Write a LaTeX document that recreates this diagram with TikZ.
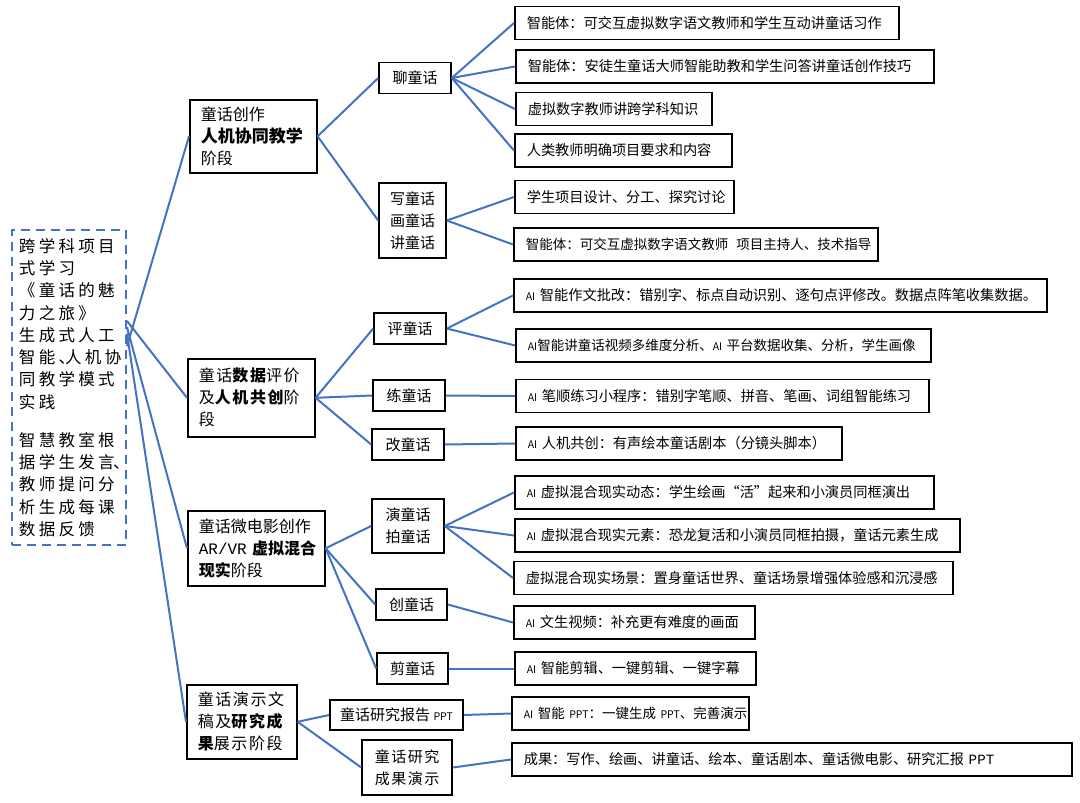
\documentclass[tikz,border=0pt]{standalone}
\usepackage{fontspec}
\setmainfont{Noto Sans CJK SC}
\newfontfamily\spacedfont[LetterSpace=10]{Noto Sans CJK SC}
\newfontfamily\widefont[LetterSpace=20]{Noto Sans CJK SC}
\newfontfamily\codefont{Liberation Mono}
\usetikzlibrary{calc}
\definecolor{linkblue}{RGB}{68,114,196}
\newcommand{\ai}{{\fontsize{10.5pt}{13pt}\selectfont AI}}
\newcommand{\ppt}{{\fontsize{10.5pt}{13pt}\selectfont PPT}}
\newcommand{\dun}{、\kern-.6em}
\newcommand{\dunend}{\kern-.1em、}

\begin{document}
\begin{tikzpicture}[
        x=1pt, y=-1pt,
        box/.style={draw=black, line width=1.6pt, fill=white, inner sep=0pt},
        rootbox/.style={draw=linkblue, dash pattern=on 9pt off 6pt, line width=2pt, align=left, text width=100pt, inner xsep=7pt, font=\widefont\fontsize{16.5pt}{22.3pt}\selectfont},
        stage/.style={box, anchor=north west, align=left, text width=#1pt, inner xsep=11pt, font=\fontsize{16pt}{22pt}\selectfont},
        sub/.style={box, align=center, font=\fontsize{15pt}{22pt}\selectfont},
        leaf/.style={box, anchor=west, align=left, text width=#1pt, inner xsep=12pt, minimum height=33pt, font=\fontsize{14.2pt}{18pt}\selectfont},
        small/.style={font=\fontsize{13.5pt}{18pt}\selectfont},
        link/.style={draw=linkblue, line width=2pt}
    ]
        \useasboundingbox (0,0) rectangle (1080,803);

        % Root
        \node[rootbox, minimum width=114pt, minimum height=315pt] (root) at (69,387.5) {跨学科项目\\式学习\\《童话的魅\\力之旅》\\生成式人工\\智能\dun 人机协\\同教学模式\\实践\\[15.7pt]智慧教室根\\据学生发言\dunend\\教师提问分\\析生成每课\\数据反馈};

        % Stages
        \node[stage=105, minimum height=73pt] (s1) at (189,99) {童话创作\\{\bfseries\fontsize{17pt}{22pt}\selectfont 人机协同教学}\\阶段};
        \node[stage=105, minimum height=78pt, font=\spacedfont\fontsize{16pt}{22pt}\selectfont] (s2) at (187,358) {童话{\bfseries 数据}评价\\及{\bfseries 人机共创}阶\\段};
        \node[stage=115, minimum height=75pt] (s3) at (187,510) {童话微电影创作\\{\codefont AR/VR}~{\bfseries 虚拟混合}\\{\bfseries 现实}阶段};
        \node[stage=88, minimum height=74pt, font=\spacedfont\fontsize{16pt}{22pt}\selectfont] (s4) at (186,684) {童话演示文\\稿及{\bfseries 研究成}\\{\bfseries 果}展示阶段};

        % Activities
        \node[sub, minimum width=72pt, minimum height=31pt] (liao) at (415,78) {聊童话};
        \node[sub, minimum width=67pt, minimum height=75pt] (xie) at (412.5,220.5) {写童话\\画童话\\讲童话};
        \node[sub, minimum width=72pt, minimum height=31pt] (ping) at (410,328.5) {评童话};
        \node[sub, minimum width=72pt, minimum height=31pt] (lian) at (409,395.5) {练童话};
        \node[sub, minimum width=72pt, minimum height=31pt] (gai) at (408,444.5) {改童话};
        \node[sub, minimum width=72pt, minimum height=54pt] (yan) at (408,526) {演童话\\拍童话};
        \node[sub, minimum width=71pt, minimum height=31pt] (chuang) at (411.5,604.5) {创童话};
        \node[sub, minimum width=71pt, minimum height=31pt] (jian) at (412.5,668.5) {剪童话};
        \node[sub, minimum width=133pt, minimum height=30pt] (report) at (396.5,715) {童话研究报告~\ppt};
        \node[sub, minimum width=90pt, minimum height=55pt, font=\spacedfont\fontsize{15pt}{22pt}\selectfont] (show) at (407,767.5) {童话研究\\成果演示};

        % Details
        \node[leaf=360] (l1) at (514,23) {智能体：可交互虚拟数字语文教师和学生互动讲童话习作};
        \node[leaf=394] (l2) at (515,66.5) {智能体：安徒生童话大师智能助教和学生问答讲童话创作技巧};
        \node[leaf=172] (l3) at (515,109) {虚拟数字教师讲跨学科知识};
        \node[leaf=193] (l4) at (514,150.5) {人类教师明确项目要求和内容};
        \node[leaf=195] (l5) at (514,197) {学生项目设计、分工、探究讨论};
        \node[leaf=340, small] (l6) at (513,244.5) {智能体：可交互虚拟数字语文教师\kern8pt 项目主持人、技术指导};
        \node[leaf=509] (l7) at (513,295.5) {\ai~智能作文批改：错别字、标点自动识别、逐句点评修改。数据点阵笔收集数据。};
        \node[leaf=391, small] (l8) at (515,345.5) {\ai 智能讲童话视频多维度分析、\ai~平台数据收集、分析，学生画像};
        \node[leaf=389] (l9) at (515,396) {\ai~笔顺练习小程序：错别字笔顺、拼音、笔画、词组智能练习};
        \node[leaf=302] (l10) at (515,443.5) {\ai~人机共创：有声绘本童话剧本（分镜头脚本）};
        \node[leaf=395] (l11) at (514,492.5) {\ai~虚拟混合现实动态：学生绘画“活”起来和小演员同框演出};
        \node[leaf=421] (l12) at (514,535.5) {\ai~虚拟混合现实元素：恐龙复活和小演员同框拍摄，童话元素生成};
        \node[leaf=415] (l13) at (513,578) {虚拟混合现实场景：置身童话世界、童话场景增强体验感和沉浸感};
        \node[leaf=217] (l14) at (513,622.5) {\ai~文生视频：补充更有难度的画面};
        \node[leaf=217] (l15) at (514,668.5) {\ai~智能剪辑、一键剪辑、一键字幕};
        \node[leaf=213, small] (l16) at (511,713.5) {\ai~智能~\ppt：一键生成~\ppt、完善演示};
        \node[leaf=536] (l17) at (511,759.5) {成果：写作、绘画、讲童话、绘本、童话剧本、童话微电影、研究汇报~{\codefont PPT}};

        % Root links
        \draw[link] ($(root.north east)!0.37!(root.south east)$) -- (s1.west);
        \draw[link] ($(root.north east)!0.29!(root.south east)$) -- (s2.west);
        \draw[link] ($(root.north east)!0.31!(root.south east)$) -- (s3.west);
        \draw[link] ($(root.north east)!0.33!(root.south east)$) -- (s4.west);

        % Stage links
        \draw[link] (s1.east) -- (liao.west);
        \draw[link] (s1.east) -- (xie.west);
        \draw[link] (s2.east) -- (ping.west);
        \draw[link] (s2.east) -- (lian.west);
        \draw[link] (s2.east) -- (gai.west);
        \draw[link] (s3.east) -- (yan.west);
        \draw[link] (s3.east) -- (chuang.west);
        \draw[link] (s3.east) -- (jian.west);
        \draw[link] (s4.east) -- (report.west);
        \draw[link] (s4.east) -- (show.west);

        % Detail links
        \draw[link] (liao.east) -- (l1.west);
        \draw[link] (liao.east) -- (l2.west);
        \draw[link] (liao.east) -- (l3.west);
        \draw[link] (liao.east) -- (l4.west);
        \draw[link] (xie.east) -- (l5.west);
        \draw[link] (xie.east) -- (l6.west);
        \draw[link] (ping.east) -- (l7.west);
        \draw[link] (ping.east) -- (l8.west);
        \draw[link] (lian.east) -- (l9.west);
        \draw[link] (gai.east) -- (l10.west);
        \draw[link] (yan.east) -- (l11.west);
        \draw[link] (yan.east) -- (l12.west);
        \draw[link] (yan.east) -- (l13.west);
        \draw[link] (chuang.east) -- (l14.west);
        \draw[link] (jian.east) -- (l15.west);
        \draw[link] (report.east) -- (l16.west);
        \draw[link] (show.east) -- (l17.west);

    \end{tikzpicture}
\end{document}
